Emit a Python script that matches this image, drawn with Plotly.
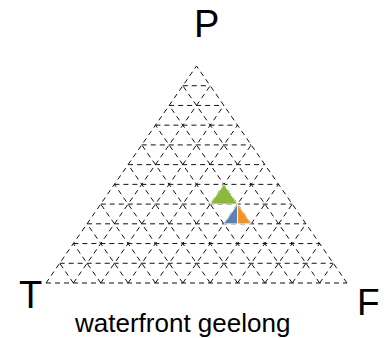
import plotly.graph_objects as go
from collections import OrderedDict

# ---- data (ternary compositions, fractions of P / T / F) ----
series_names = ["sample A", "sample B", "sample C"]
P_vals = [0.31, 0.30, 0.40]
T_vals = [0.20, 0.19, 0.20]
F_vals = [0.49, 0.51, 0.40]
series_colors = ["#5b82b8", "#f59125", "#8cb83c"]

vertex_labels = ["P", "T", "F"]
chart_title = "waterfront geelong"
N_DIV = 11  # grid divisions

W, H = 384, 338


def proj(p, f):
    """ternary (p, f, t) -> cartesian (T at 0,0; F at 1,0; P at top)."""
    return f + p / 2.0, p


fig = go.Figure()

# ---- dashed ternary grid (constant P, constant F, constant T) ----
for fam in range(3):
    xs, ys = [], []
    for k in range(N_DIV + 1):
        c = k / N_DIV
        if fam == 0:      # constant P
            a = proj(c, 0.0); b = proj(c, 1 - c)
        elif fam == 1:    # constant F
            a = proj(0.0, c); b = proj(1 - c, c)
        else:             # constant T
            a = proj(0.0, 1 - c); b = proj(1 - c, 0.0)
        xs += [a[0], b[0], None]
        ys += [a[1], b[1], None]
    fig.add_trace(go.Scatter(x=xs, y=ys, mode="lines",
                             line=dict(color="#111111", width=1, dash="5px,4px"),
                             hoverinfo="skip", showlegend=False))

# ---- bin each composition into its grid cell ----
cells = OrderedDict()
for i in range(len(series_names)):
    key = (int(P_vals[i] * N_DIV), int(F_vals[i] * N_DIV), int(T_vals[i] * N_DIV))
    cells.setdefault(key, []).append(i)

for (ip, jf, kt), members in cells.items():
    n = N_DIV
    if ip + jf + kt == n - 1:
        apex = proj((ip + 1) / n, jf / n)
        bl = proj(ip / n, jf / n)
        br = proj(ip / n, (jf + 1) / n)
        m = len(members)
        for s, idx in enumerate(members):
            x0 = bl[0] + (br[0] - bl[0]) * s / m
            x1 = bl[0] + (br[0] - bl[0]) * (s + 1) / m
            fig.add_trace(go.Scatter(
                x=[apex[0], x0, x1, apex[0]], y=[apex[1], bl[1], br[1], apex[1]],
                mode="lines", fill="toself", fillcolor=series_colors[idx],
                line=dict(color="white", width=0.8), name=series_names[idx],
                showlegend=False))
    else:
        a = proj((ip + 1) / n, (jf + 1) / n)
        b = proj((ip + 1) / n, jf / n)
        c = proj(ip / n, (jf + 1) / n)
        idx = members[0]
        fig.add_trace(go.Scatter(
            x=[a[0], b[0], c[0], a[0]], y=[a[1], b[1], c[1], a[1]],
            mode="lines", fill="toself", fillcolor=series_colors[idx],
            line=dict(color="white", width=0.8), name=series_names[idx],
            showlegend=False))

# ---- layout: triangle placed in the same window box as the reference ----
x_left, x_right, y_base, y_apex = 46.0, 347.0, 283.0, 66.0
sx = x_right - x_left
sy = y_base - y_apex
fig.update_layout(
    width=W, height=H,
    margin=dict(l=0, r=0, t=0, b=0),
    paper_bgcolor="white", plot_bgcolor="white",
    showlegend=False,
    xaxis=dict(range=[-x_left / sx, (W - x_left) / sx], visible=False, fixedrange=True),
    yaxis=dict(range=[(y_base - H) / sy, y_base / sy], visible=False, fixedrange=True),
    font=dict(family="Liberation Sans, Arial, sans-serif", color="black"),
)


def ann(text, px, py, size):
    fig.add_annotation(text=text, xref="paper", yref="paper",
                       x=px / W, y=1 - py / H, xanchor="center", yanchor="middle",
                       showarrow=False, font=dict(size=size, color="black"))


ann(vertex_labels[0], 206, 24, 38)
ann(vertex_labels[1], 30, 295, 38)
ann(vertex_labels[2], 368, 302, 37)
ann(chart_title, 182, 323, 26)

fig.write_html("out.html", config={"displayModeBar": False},
               post_script="document.body.style.margin='0px';")
